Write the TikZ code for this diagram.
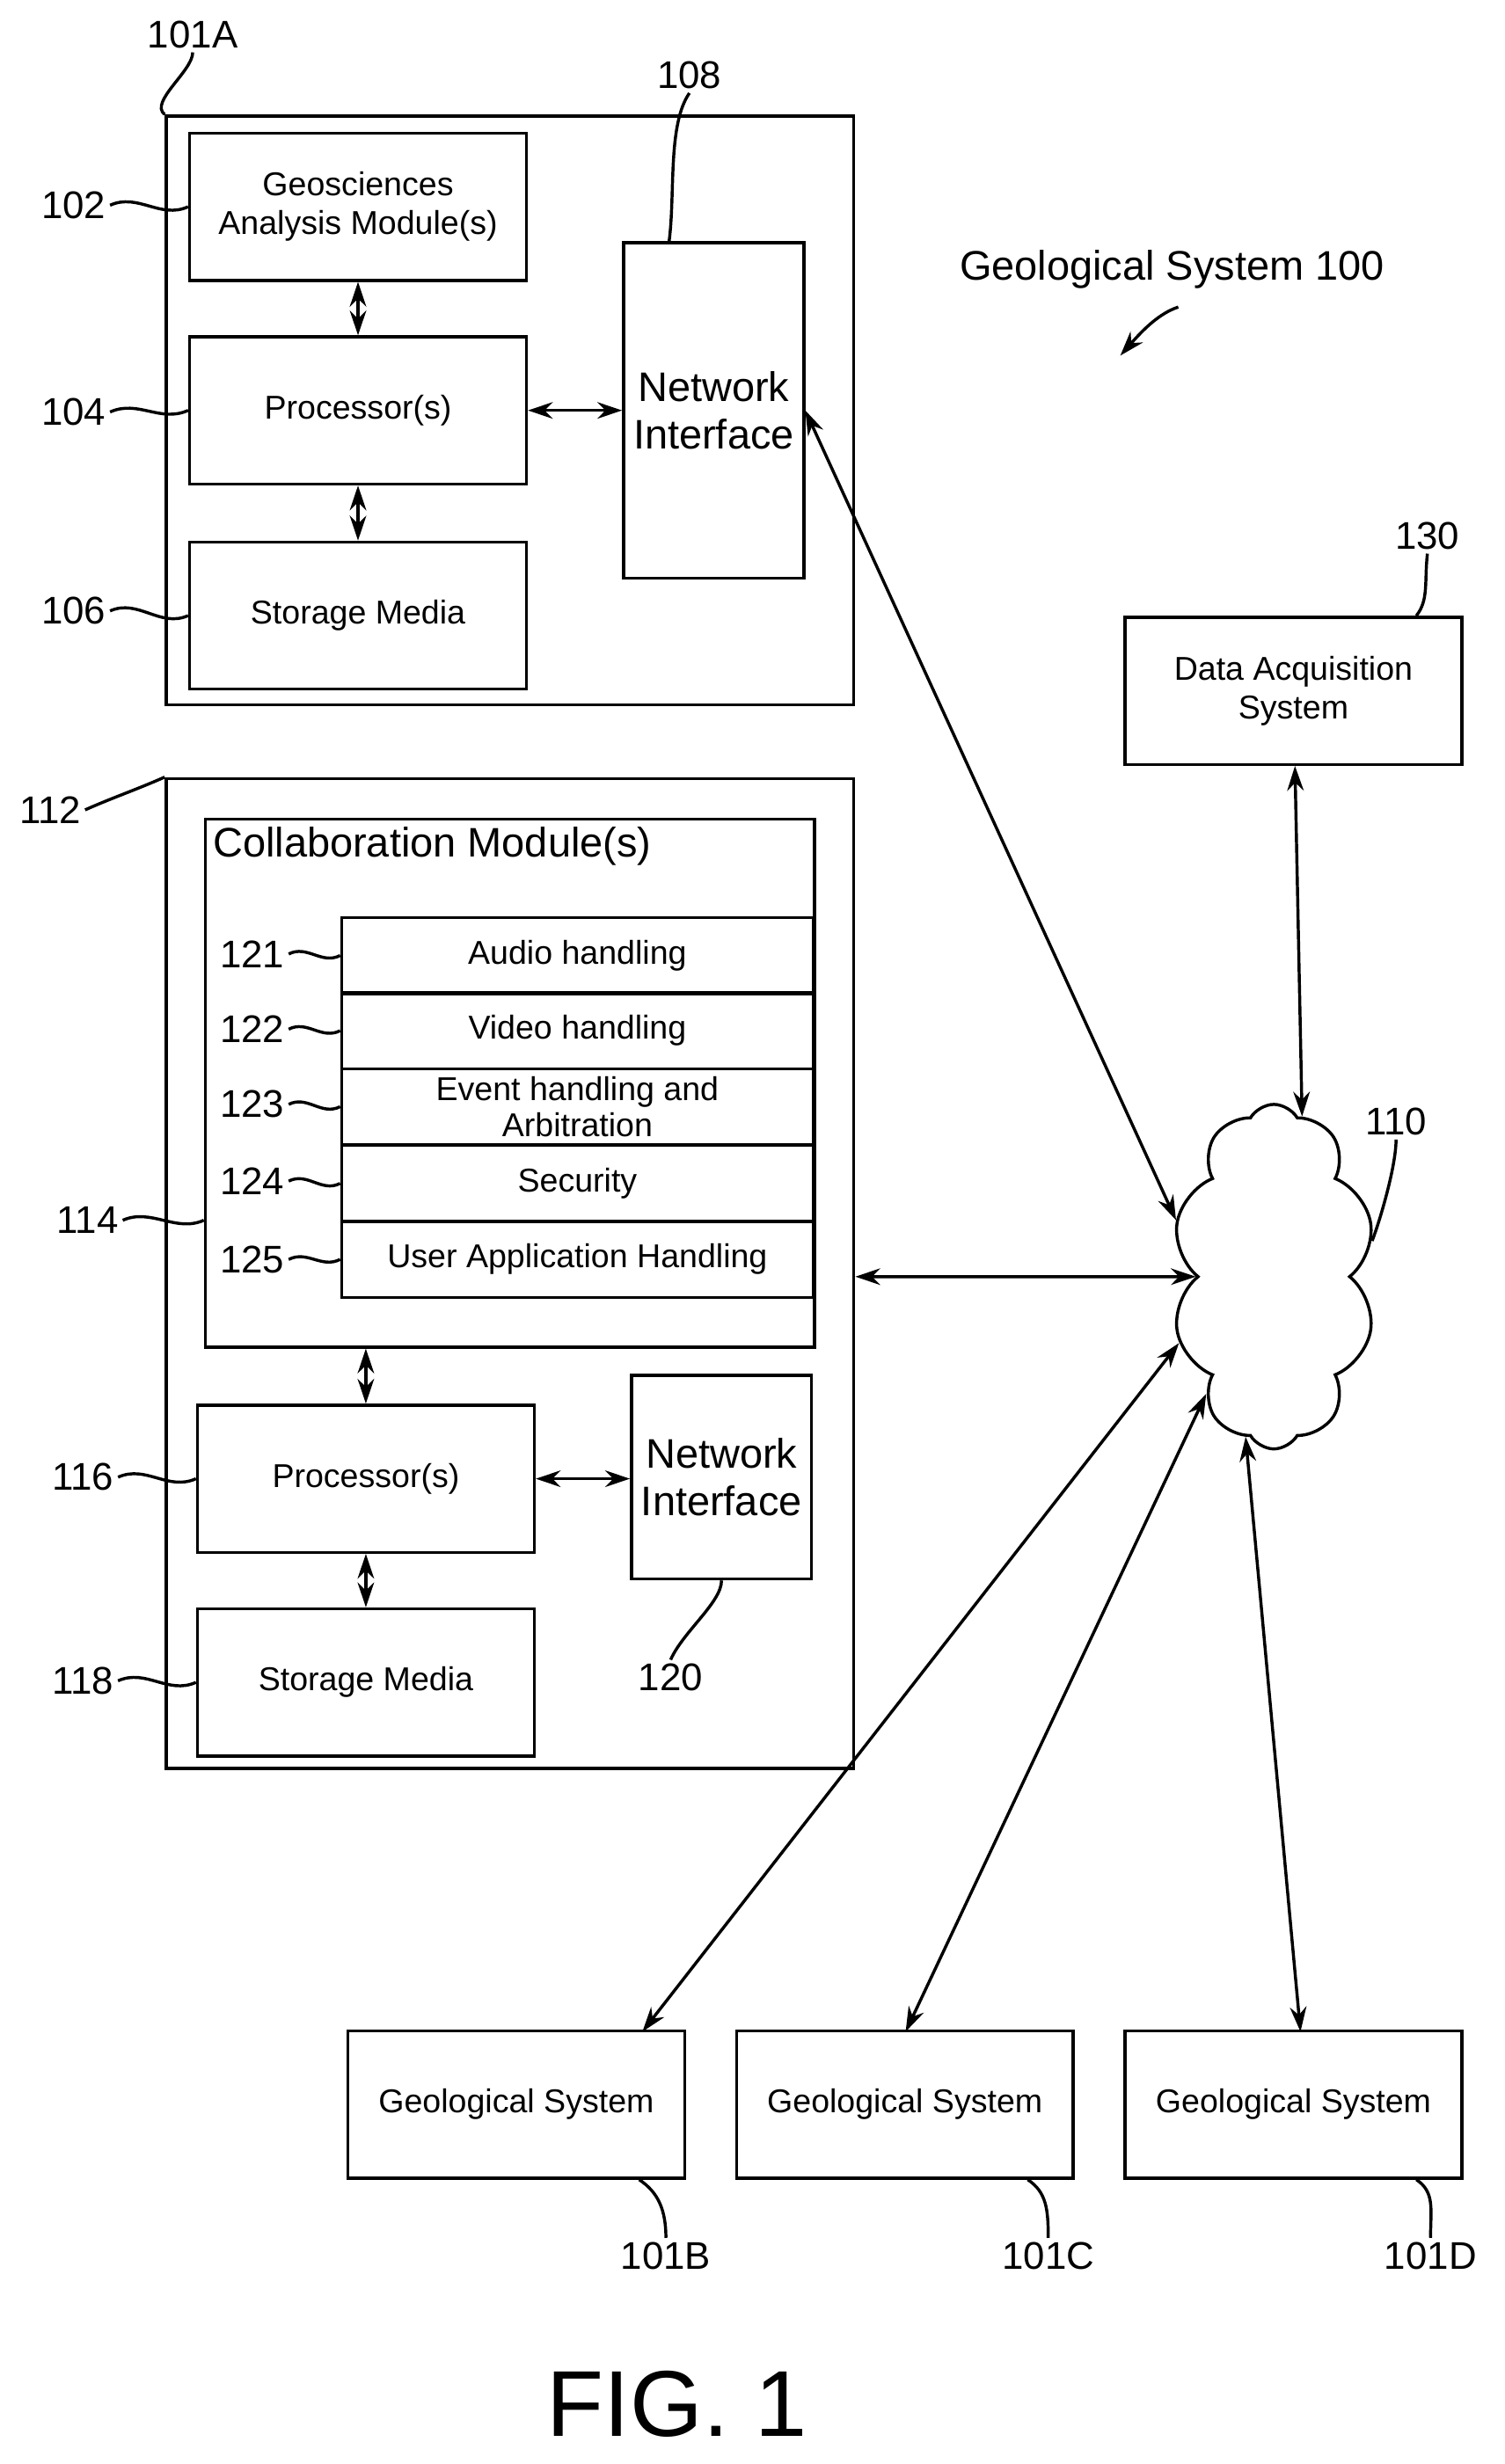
\documentclass[tikz,border=0pt]{standalone}
\usepackage{fontspec}
\setmainfont{Liberation Sans}
\usetikzlibrary{arrows.meta,shapes.symbols}
\begin{document}
\begin{tikzpicture}[x=0.02cm,y=-0.02cm, line width=1.1pt,
box/.style={draw=black, minimum width=4.3cm, minimum height=1.88cm, align=center, font=\fontsize{12}{14}\selectfont, inner sep=1pt},
row/.style={draw=black, minimum width=6.02cm, minimum height=0.97cm, align=center, font=\fontsize{12}{14}\selectfont, inner sep=0pt},
big/.style={draw=black, inner sep=0pt},
ni/.style={draw=black, minimum width=2.3cm, align=center, font=\fontsize{15}{17}\selectfont, inner sep=0pt},
lbl/.style={font=\fontsize{14}{15}\selectfont, inner sep=1pt},
link/.style={{Stealth[length=9pt,width=6pt]}-{Stealth[length=9pt,width=6pt]}},
lead/.style={}
]
\useasboundingbox (0,0) rectangle (960,1573);
%Boxes
\node[big, minimum width=8.78cm, minimum height=7.52cm] (sysA) at (325.5,262) {};
\node[box] (geo)   at (228.5,132) {Geosciences\\Analysis Module(s)};
\node[box] (procA) at (228.5,262) {Processor(s)};
\node[box] (storA) at (228.5,393) {Storage Media};
\node[ni, minimum height=4.28cm] (niA) at (455.5,262) {Network\\Interface};
\node[big, minimum width=8.78cm, minimum height=12.64cm] (sysB) at (325.5,813) {};
\node[big, minimum width=7.78cm, minimum height=6.74cm] (collab) at (325.5,691.5) {};
\node[anchor=west, font=\fontsize{15}{17}\selectfont, inner sep=0pt] (ctitle) at (135,540) {Collaboration Module(s)};
\node[row] (audio) at (368.5,610)   {Audio handling};
\node[row] (video) at (368.5,658)   {Video handling};
\node[row] (event) at (368.5,706.5) {Event handling and\\[-1pt]Arbitration};
\node[row] (secu)  at (368.5,755.5) {Security};
\node[row] (user)  at (368.5,804)   {User Application Handling};
\node[box] (procB) at (233.5,944)  {Processor(s)};
\node[box] (storB) at (233.5,1074) {Storage Media};
\node[ni, minimum height=2.6cm] (niB) at (460.5,943) {Network\\Interface};
\node[box] (daq) at (825.5,441) {Data Acquisition\\System};
\node[draw=black, cloud, cloud puffs=10, cloud puff arc=120, minimum width=2.6cm, minimum height=4.4cm] (net) at (813,815) {};
\node[box] (gsB) at (329.5,1343.5) {Geological System};
\node[box] (gsC) at (577.5,1343.5) {Geological System};
\node[box] (gsD) at (825.5,1343.5) {Geological System};
\node[font=\fontsize{15}{17}\selectfont] (title) at (748,172) {Geological System 100};
\node[font=\fontsize{34}{36}\selectfont] (fig) at (432,1535) {FIG. 1};
%Labels
\node[lbl] (l101A) at (123,22) {101A};
\node[lbl] (l108) at (440,48) {108};
\node[lbl] (l102) at (47,131) {102};
\node[lbl] (l104) at (47,263) {104};
\node[lbl] (l106) at (47,390) {106};
\node[lbl] (l112) at (32,517) {112};
\node[lbl] (l114) at (56,779) {114};
\node[lbl] (l116) at (53,943) {116};
\node[lbl] (l118) at (53,1073) {118};
\node[lbl] (l121) at (161,609) {121};
\node[lbl] (l122) at (161,657) {122};
\node[lbl] (l123) at (161,705) {123};
\node[lbl] (l124) at (161,754) {124};
\node[lbl] (l125) at (161,804) {125};
\node[lbl] (l120) at (428,1071) {120};
\node[lbl] (l130) at (911,342) {130};
\node[lbl] (l110) at (891,716) {110};
\node[lbl] (l101B) at (425,1440) {101B};
\node[lbl] (l101C) at (669,1440) {101C};
\node[lbl] (l101D) at (913,1440) {101D};
%Leaders
\foreach \a/\b in {l102/geo, l104/procA, l106/storA, l116/procB, l118/storB}
  \draw[lead] (\a.east) .. controls +(18,-8) and +(-18,8) .. (\b.west);
\draw[lead] (l112.east) .. controls +(18,-8) and +(-18,8) .. (sysB.north west);
\draw[lead] (l114.east) .. controls +(18,-8) and +(-18,8) .. (collab.west |- l114);
\foreach \a/\b in {l121/audio, l122/video, l123/event, l124/secu, l125/user}
  \draw[lead] (\a.east) .. controls +(12,-6) and +(-12,6) .. (\b.west);
\draw[lead] (l101A.south) .. controls +(0,12) and +(-10,-8) .. (sysA.north west);
\draw[lead] (l108.south) .. controls +(-14,20) and +(4,-30) .. ([xshift=0.6cm]niA.north west);
\draw[lead] (l120.north) .. controls +(8,-18) and +(0,14) .. (niB.south);
\draw[lead] (l130.south) .. controls +(-2,18) and +(8,-10) .. ([xshift=-0.6cm]daq.north east);
\draw[lead] (l110.south) .. controls +(0,18) and +(4,-10) .. (net.20);
\draw[lead] (l101B.north) .. controls +(0,-18) and +(12,8) .. ([xshift=-0.6cm]gsB.south east);
\draw[lead] (l101C.north) .. controls +(0,-18) and +(12,8) .. ([xshift=-0.6cm]gsC.south east);
\draw[lead] (l101D.north) .. controls +(0,-18) and +(12,8) .. ([xshift=-0.6cm]gsD.south east);
\draw[-{Stealth[length=9pt,width=6pt]}] (752,196) .. controls (740,200) and (730,210) .. (715,227);
%Connectors
\draw[link] (geo) -- (procA);
\draw[link] (procA) -- (storA);
\draw[link] (procA) -- (niA.west |- procA);
\draw[link] (niA.east) -- (net.150);
\draw[link] (daq) -- (net.80);
\draw[link] (sysB.east |- net) -- (net.west);
\draw[link] (collab.south -| procB) -- (procB);
\draw[link] (procB) -- (storB);
\draw[link] (procB) -- (niB.west |- procB);
\draw[link] (net.215) -- (410,1297) coordinate (gB);
\draw[link] (net.240) -- (578,1297) coordinate (gC);
\draw[link] (net.260) -- (830,1297) coordinate (gD);
\end{tikzpicture}
\end{document}
